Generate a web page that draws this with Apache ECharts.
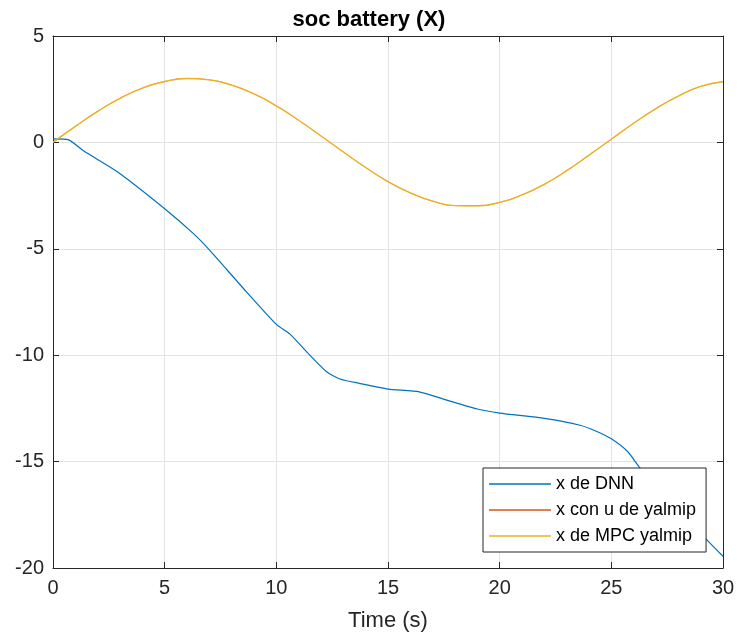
<!DOCTYPE html>
<html>
<head>
<meta charset="utf-8">
<script src="https://cdn.jsdelivr.net/npm/echarts@6/dist/echarts.min.js"></script>
<style>html,body{margin:0;padding:0;background:#fff;}#c{width:738px;height:637px;}</style>
</head>
<body>
<div id="c"></div>
<script>
const xTicks = [0, 5, 10, 15, 20, 25, 30];
const yTicks = [-20, -15, -10, -5, 0, 5];
const seriesNames = ['x de DNN', 'x con u de yalmip', 'x de MPC yalmip'];

const timeDNN = [0, 0.7, 1.4, 2.85, 5, 6.3, 7.0, 8.5, 10, 10.6, 11.5, 12.25, 12.85, 13.7, 15, 16.4, 17.6, 19, 20, 22, 23.6, 24.3, 25, 25.75, 26.28, 27, 28, 29.3, 30];
const socDNN = [0.17, 0.12, -0.42, -1.36, -3.12, -4.3, -5.05, -6.83, -8.55, -9.0, -10.0, -10.78, -11.12, -11.32, -11.59, -11.72, -12.1, -12.53, -12.72, -12.97, -13.29, -13.56, -13.93, -14.55, -15.3, -16.1, -17.2, -18.7, -19.45];

const timeMPC = [0,1,2,3,4,5,6,7,8,9,10,11,12,13,14,15,16,17,18,19,20,21,22,23,24,25,26,27,28,29,30];
const socYalmip = [0, 0.75, 1.46, 2.07, 2.55, 2.86, 3.0, 2.94, 2.69, 2.28, 1.72, 1.04, 0.30, -0.45, -1.18, -1.84, -2.37, -2.76, -2.97, -2.98, -2.82, -2.47, -1.97, -1.33, -0.60, 0.15, 0.90, 1.59, 2.18, 2.63, 2.85];
const socMPC = [0, 0.75, 1.46, 2.07, 2.55, 2.86, 3.0, 2.94, 2.69, 2.28, 1.72, 1.04, 0.30, -0.45, -1.18, -1.84, -2.37, -2.76, -2.97, -2.98, -2.82, -2.47, -1.97, -1.33, -0.60, 0.15, 0.90, 1.59, 2.18, 2.63, 2.85];

const colors = ['#0072BD', '#D95319', '#EDB120'];
const lineWidths = [1.2, 0.6, 1.4];
const smoothing = [0.2, 0.5, 0.5];
const FONT = '"Liberation Sans", Arial, Helvetica, sans-serif';
const axisColor = '#262626';

function pairs(t, v) { return t.map((x, i) => [x, v[i]]); }

const chart = echarts.init(document.getElementById('c'), null, {renderer: 'canvas'});

function xAx(pos, showLabel) {
  return {
    type: 'value', position: pos, min: xTicks[0], max: xTicks[xTicks.length-1], interval: 5,
    axisLine: {show: true, onZero: false, lineStyle: {color: axisColor, width: 1}},
    axisTick: {show: true, inside: true, length: 6, lineStyle: {color: axisColor}},
    splitLine: {show: showLabel, lineStyle: {color: '#e3e3e3', width: 1}},
    axisLabel: {show: showLabel, fontSize: 20, color: axisColor, fontFamily: FONT, margin: 10},
    name: showLabel ? 'Time (s)' : '', nameLocation: 'middle', nameGap: 42,
    nameTextStyle: {fontSize: 22, color: axisColor, fontFamily: FONT}
  };
}
function yAx(pos, showLabel) {
  return {
    type: 'value', position: pos, min: yTicks[0], max: yTicks[yTicks.length-1], interval: 5,
    axisLine: {show: true, onZero: false, lineStyle: {color: axisColor, width: 1}},
    axisTick: {show: true, inside: true, length: 6, lineStyle: {color: axisColor}},
    splitLine: {show: showLabel, lineStyle: {color: '#e3e3e3', width: 1}},
    axisLabel: {show: showLabel, fontSize: 20, color: axisColor, fontFamily: FONT, margin: 9}
  };
}

const data = [pairs(timeDNN, socDNN), pairs(timeMPC, socYalmip), pairs(timeMPC, socMPC)];

chart.setOption({
  animation: false,
  backgroundColor: '#fff',
  title: {
    text: 'soc battery (X)', left: 'center', top: 4,
    textStyle: {fontSize: 22, fontWeight: 'bold', color: '#000', fontFamily: FONT}
  },
  grid: {left: 53, right: 15, top: 36, bottom: 67, containLabel: false},
  xAxis: [xAx('bottom', true), xAx('top', false)],
  yAxis: [yAx('left', true), yAx('right', false)],
  legend: {
    data: seriesNames.map(n => ({name: n, icon: 'rect'})),
    orient: 'vertical',
    left: 483, top: 468,
    padding: [5, 10, 5, 6],
    itemGap: 4,
    itemWidth: 62, itemHeight: 1.5,
    backgroundColor: '#fff',
    borderColor: axisColor, borderWidth: 1, borderRadius: 0,
    textStyle: {fontSize: 18, color: '#000', fontFamily: FONT, lineHeight: 22},
    inactiveColor: '#ccc'
  },
  series: seriesNames.map((n, i) => ({
    name: n, type: 'line', data: data[i], symbol: 'none', showSymbol: false,
    smooth: smoothing[i],
    xAxisIndex: 0, yAxisIndex: 0,
    color: colors[i],
    lineStyle: {color: colors[i], width: lineWidths[i]},
    z: 2 + i
  }))
});
</script>
</body>
</html>
